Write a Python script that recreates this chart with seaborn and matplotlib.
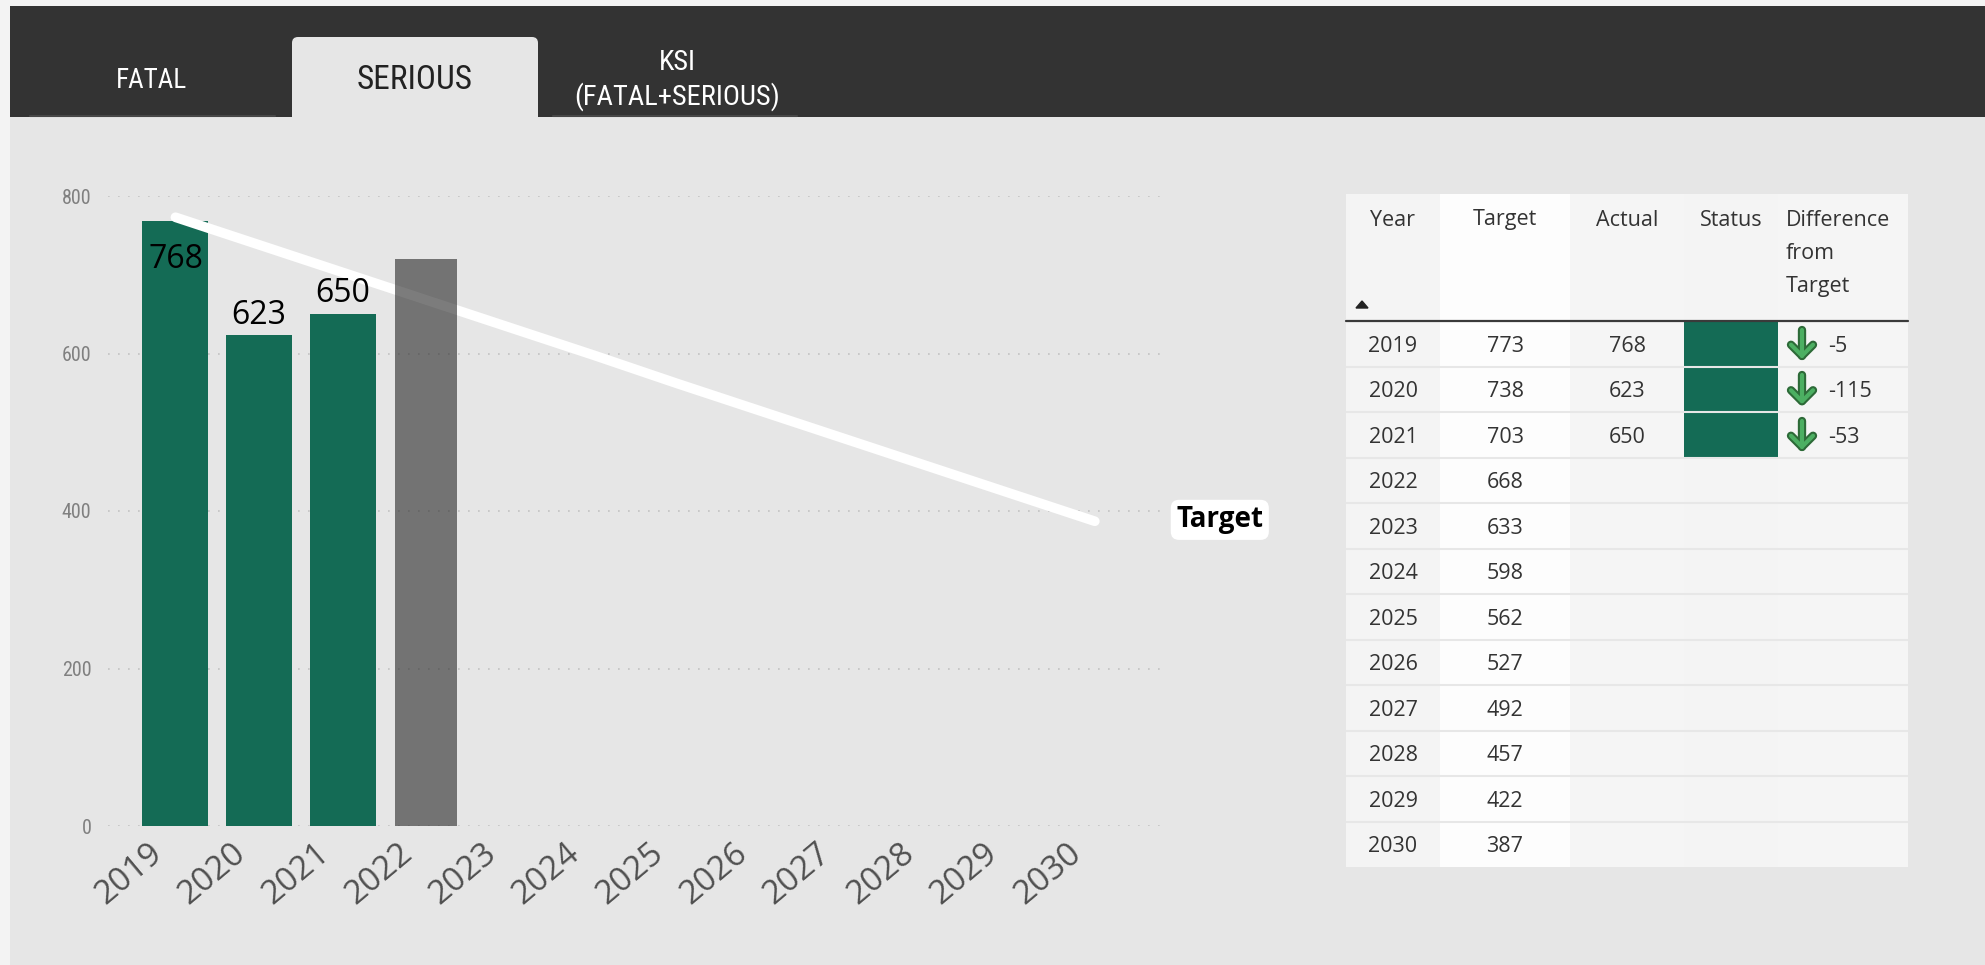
import numpy as np
import pandas as pd
import matplotlib
matplotlib.use("Agg")
import matplotlib.pyplot as plt
import seaborn as sns
from matplotlib import font_manager
from matplotlib.patches import Rectangle, FancyBboxPatch, Polygon
from matplotlib.lines import Line2D
from matplotlib.transforms import ScaledTranslation

# ---- data -------------------------------------------------------------
years = ["2019", "2020", "2021", "2022", "2023", "2024",
         "2025", "2026", "2027", "2028", "2029", "2030"]
target = [773, 738, 703, 668, 633, 598, 562, 527, 492, 457, 422, 387]
actual_years = ["2019", "2020", "2021"]
actual = [768, 623, 650]
projected_years = ["2022"]
projected = [720]
y_ticks = [0, 200, 400, 600, 800]
tabs = ["FATAL", "SERIOUS", "KSI\n(FATAL+SERIOUS)"]
table_columns = ["Year", "Target", "Actual", "Status", "Difference\nfrom\nTarget"]

# ---- style ------------------------------------------------------------
W, H = 1985, 965
GREEN = "#146b55"
BG = "#e6e6e6"
DARK = "#333333"

sns.set_theme(style="white")
available = {f.name for f in font_manager.fontManager.ttflist}


def pick(*names):
    for n in names:
        if n in available:
            return n
    return "DejaVu Sans"


BODY = pick("Open Sans", "Noto Sans", "DejaVu Sans")
NARROW = pick("Liberation Sans Narrow", "Roboto Condensed", "Roboto", "DejaVu Sans")
plt.rcParams["font.family"] = [BODY, "DejaVu Sans"]

fig = plt.figure(figsize=(W / 100, H / 100), dpi=100)
fig.patch.set_facecolor("#f3f3f3")

# page canvas in pixel coordinates
bg = fig.add_axes([0, 0, 1, 1], zorder=0)
bg.set_xlim(0, W)
bg.set_ylim(H, 0)
bg.axis("off")
bg.add_patch(Rectangle((10, 6), W - 10, H - 6, color=BG, lw=0))
bg.add_patch(Rectangle((10, 6), W - 10, 111, color=DARK, lw=0))

# tab strip
bg.add_patch(FancyBboxPatch((292, 37), 246, 90, boxstyle="round,pad=0,rounding_size=6",
                            fc=BG, ec="none"))
bg.add_patch(Rectangle((292, 100), 246, 17, color=BG, lw=0))
bg.add_line(Line2D([30, 275], [116, 116], color="#474747", lw=1.5))
bg.add_line(Line2D([553, 797], [116, 116], color="#474747", lw=1.5))
bg.text(152, 80, tabs[0], ha="center", va="center", fontsize=19.5, color="white", family=NARROW)
bg.text(415, 80, tabs[1], ha="center", va="center", fontsize=24, color="#222222", family=NARROW)
bg.text(677, 80, tabs[2], ha="center", va="center", fontsize=20.5, color="white", family=NARROW,
        linespacing=1.3)

# ---- chart ------------------------------------------------------------
ax = fig.add_axes([108 / W, 1 - 826 / H, (1160 - 108) / W, (826 - 196) / H], zorder=1)
ax.patch.set_alpha(0)

df_actual = pd.DataFrame({"Year": actual_years, "Value": actual})
df_target = pd.DataFrame({"Year": years, "Target": target})
df_proj = pd.DataFrame({"Year": projected_years, "Value": projected})

sns.barplot(data=df_actual, x="Year", y="Value", order=years, color=GREEN,
            saturation=1, width=0.79, ax=ax, zorder=2, linewidth=0)
sns.pointplot(data=df_target, x="Year", y="Target", order=years, color="white",
              errorbar=None, linewidth=7, ax=ax)
for ln in ax.lines:
    ln.set_marker("")
    ln.set_solid_capstyle("round")
    ln.set_zorder(3)
sns.barplot(data=df_proj, x="Year", y="Value", order=years, color="#2c2c2c",
            saturation=1, width=0.74, alpha=0.62, ax=ax, zorder=4, linewidth=0)

ax.set_xlim(-0.807, 11.78)
ax.set_ylim(0, 800)
ax.set_xlabel("")
ax.set_ylabel("")
sns.despine(ax=ax, left=True, bottom=True)

ax.set_yticks(y_ticks)
ax.yaxis.grid(True, linestyle=(0, (1, 5)), color="#c2c2c2", linewidth=1.2)
ax.xaxis.grid(False)
ax.set_axisbelow(True)
ax.tick_params(axis="y", length=0, pad=12, labelsize=14.5, labelcolor="#808080")
for lbl in ax.get_yticklabels():
    lbl.set_family(NARROW)

ax.set_xticks(range(len(years)))
ax.tick_params(axis="x", length=0, pad=8)
ax.set_xticklabels(years, rotation=40, ha="right", va="top", rotation_mode="anchor",
                   fontsize=24, color="#505050")
shift = ScaledTranslation(-28 / 100, 0, fig.dpi_scale_trans)
for lbl in ax.get_xticklabels():
    lbl.set_transform(lbl.get_transform() + shift)

# value labels on the actual bars
for yr, v in zip(actual_years, actual):
    i = years.index(yr)
    inside = v + 57 > 800
    ax.annotate(str(v), xy=(i, v), xytext=(0, -33.5 if inside else 8.5),
                textcoords="offset points", ha="center", va="baseline",
                fontsize=23, color="black", zorder=6)

# end-of-line label
ax.annotate("Target", xy=(len(years) - 1, target[-1]), xytext=(90, 1),
            textcoords="offset points", ha="center", va="center", fontsize=20,
            fontweight="bold", color="black", annotation_clip=False, zorder=6,
            bbox=dict(boxstyle="round,pad=0.2,rounding_size=0.3", fc="white", ec="none"))

# ---- table ------------------------------------------------------------
col_x = [1346, 1440, 1570, 1684, 1778, 1908]
col_bg = ["#f4f4f4", "#fdfdfd", "#f5f5f5", "#f4f4f4", "#f5f5f5"]
head_top, head_bot, row_h = 194, 321, 45.5
tab_bot = head_bot + row_h * len(years)
TXT = "#333333"
TFS = 15.5

for c in range(5):
    bg.add_patch(Rectangle((col_x[c], head_top), col_x[c + 1] - col_x[c], tab_bot - head_top,
                           color=col_bg[c], lw=0))
for r in range(1, len(years)):
    yy = head_bot + r * row_h
    bg.add_line(Line2D([col_x[0], col_x[-1]], [yy, yy], color="#e7e7e7", lw=1.5, zorder=3))

for c in range(4):
    bg.text((col_x[c] + col_x[c + 1]) / 2, 220, table_columns[c], ha="center", va="center",
            fontsize=TFS, color=TXT)
bg.text(col_x[4] + 8, 210, table_columns[4], ha="left", va="top", fontsize=TFS, color=TXT,
        linespacing=1.74)
bg.add_patch(Polygon([[1356, 308], [1368, 308], [1362, 301]], closed=True, color="#222222"))
bg.add_line(Line2D([col_x[0], col_x[-1]], [head_bot, head_bot], color="#3a3a3a", lw=1.6, zorder=4))

actual_map = dict(zip(actual_years, actual))
for r, (yr, t) in enumerate(zip(years, target)):
    cy = head_bot + (r + 0.5) * row_h
    ty = cy + 2.5
    bg.text((col_x[0] + col_x[1]) / 2, ty, yr, ha="center", va="center", fontsize=TFS, color=TXT)
    bg.text((col_x[1] + col_x[2]) / 2, ty, str(t), ha="center", va="center", fontsize=TFS, color=TXT)
    if yr in actual_map:
        a = actual_map[yr]
        bg.text((col_x[2] + col_x[3]) / 2, ty, str(a), ha="center", va="center",
                fontsize=TFS, color=TXT)
        bg.add_patch(Rectangle((col_x[3], head_bot + r * row_h + 1), col_x[4] - col_x[3],
                               row_h - 1, color=GREEN, lw=0, zorder=2))
        # down arrow icon
        ax_c = 1802
        for lw, colr in ((6.0, "#2d6a38"), (3.0, "#4caf62")):
            bg.add_line(Line2D([ax_c, ax_c], [cy - 14, cy + 12], color=colr, lw=lw,
                               solid_capstyle="round", zorder=5))
            bg.add_line(Line2D([ax_c - 11, ax_c, ax_c + 11], [cy + 1, cy + 12, cy + 1],
                               color=colr, lw=lw, solid_capstyle="round",
                               solid_joinstyle="round", zorder=5))
        bg.text(1828, ty, str(a - t), ha="left", va="center", fontsize=TFS, color=TXT)

fig.savefig("out.png", dpi=100, facecolor=fig.get_facecolor())
